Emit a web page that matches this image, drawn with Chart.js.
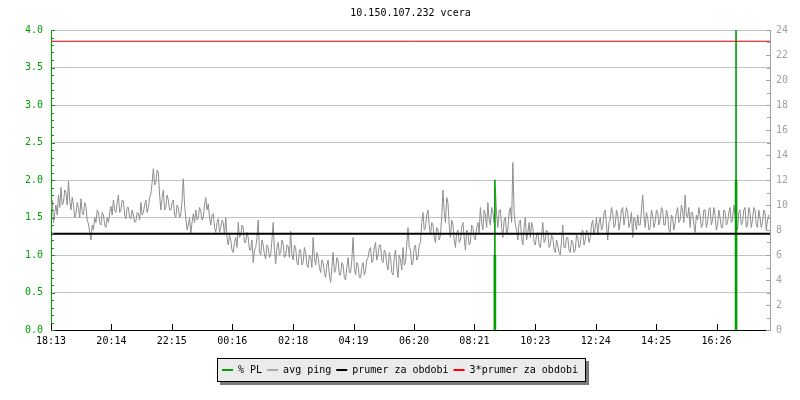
<!DOCTYPE html>
<html>
<head>
<meta charset="utf-8">
<title>10.150.107.232 vcera</title>
<script src="https://cdn.jsdelivr.net/npm/chart.js@4.4.1/dist/chart.umd.min.js"></script>
<style>
    html, body { margin: 0; padding: 0; background: #fff; }
    #wrap { width: 800px; height: 400px; }
</style>
</head>
<body>
<div id="wrap"><canvas id="pingChart" width="800" height="400"></canvas></div>
<script>
    // ── Data ───────────────────────────────────────────────
    const chartTitle = '10.150.107.232 vcera';
    const startLabel = '18:13';
    const tickLabels = ['18:13', '20:14', '22:15', '00:16', '02:18', '04:19',
                        '06:20', '08:21', '10:23', '12:24', '14:25', '16:26'];

    const sampleStep = 2.5; // minutes between samples
    const pingMs = [
        9.6, 10.4, 8.6, 9.4, 10.0, 9.2, 10.8, 9.8, 11.4, 10.0, 10.2, 11.2, 11.0, 10.0, 11.9, 10.4, 9.6, 10.6, 10.0, 9.0, 9.3, 10.2, 9.8, 9.0,
        10.5, 9.4, 9.2, 10.2, 9.9, 8.8, 8.5, 7.8, 7.2, 8.4, 8.0, 9.0, 8.6, 9.6, 9.4, 8.6, 8.4, 9.4, 9.2, 8.4, 8.2, 9.0, 8.6, 9.4,
        9.9, 9.2, 10.4, 9.6, 9.4, 10.2, 10.8, 9.4, 9.6, 10.4, 10.3, 9.2, 8.9, 9.8, 9.8, 9.0, 8.9, 9.6, 9.2, 8.6, 8.7, 9.4, 9.3, 8.8,
        10.2, 9.2, 9.4, 10.0, 10.4, 9.4, 9.8, 10.6, 10.9, 11.8, 12.9, 11.6, 11.8, 12.8, 12.6, 10.8, 9.6, 10.6, 11.2, 9.6, 9.8, 10.8, 10.4, 9.6,
        9.6, 10.2, 10.4, 9.2, 9.0, 10.0, 9.8, 9.0, 9.2, 10.4, 12.1, 10.0, 9.0, 8.0, 8.4, 9.0, 7.7, 8.6, 9.3, 8.6, 9.6, 8.8, 9.0, 9.8,
        9.5, 8.8, 9.0, 10.0, 10.6, 9.6, 10.1, 9.0, 8.4, 9.2, 9.3, 8.2, 7.8, 8.6, 8.9, 7.8, 8.2, 8.8, 8.6, 7.6, 9.0, 7.4, 6.8, 7.6,
        7.2, 6.4, 6.2, 7.0, 7.4, 6.6, 8.6, 7.4, 7.6, 8.4, 8.2, 7.0, 7.0, 7.8, 7.4, 6.4, 6.4, 7.2, 5.4, 6.4, 6.6, 7.4, 8.8, 6.2,
        6.0, 7.2, 6.8, 6.0, 5.7, 6.8, 6.6, 5.8, 6.0, 7.2, 8.6, 6.4, 5.3, 6.6, 7.0, 6.0, 6.2, 7.2, 6.9, 5.8, 6.0, 6.8, 6.7, 5.8,
        7.9, 6.0, 5.6, 6.8, 6.6, 5.4, 5.2, 6.4, 6.4, 5.2, 5.4, 6.6, 6.2, 5.2, 5.0, 6.0, 5.8, 5.0, 7.4, 5.8, 5.2, 6.2, 5.8, 5.0,
        4.6, 5.6, 5.4, 4.6, 4.2, 5.2, 5.6, 4.4, 3.8, 5.0, 6.2, 4.6, 4.8, 5.8, 5.6, 4.4, 4.4, 5.4, 5.2, 4.2, 4.0, 5.0, 5.8, 4.6,
        4.6, 5.6, 7.4, 5.0, 4.4, 5.4, 5.2, 4.2, 4.2, 5.0, 5.4, 4.4, 4.8, 5.6, 5.8, 6.4, 6.6, 5.4, 5.6, 6.6, 7.0, 5.6, 6.0, 6.8,
        6.8, 5.6, 5.4, 6.4, 6.2, 5.2, 4.8, 6.2, 5.8, 4.6, 4.4, 5.8, 6.4, 5.0, 4.2, 6.0, 5.6, 4.8, 6.6, 5.2, 5.4, 6.8, 8.2, 6.6,
        6.4, 5.2, 5.4, 6.6, 6.8, 5.6, 5.8, 6.8, 7.0, 8.6, 9.4, 8.0, 8.2, 9.2, 9.6, 8.4, 7.6, 8.6, 8.4, 7.4, 7.0, 8.2, 8.0, 7.2,
        7.6, 9.0, 11.2, 9.4, 8.6, 10.6, 10.2, 8.4, 7.4, 8.8, 8.4, 7.2, 6.6, 7.8, 8.0, 7.0, 7.2, 8.2, 8.6, 7.4, 6.4, 8.0, 7.8, 6.8,
        7.0, 8.4, 8.2, 7.4, 7.2, 8.2, 8.6, 7.8, 9.8, 8.6, 8.0, 9.6, 9.2, 8.2, 10.2, 8.8, 8.4, 9.8, 9.4, 8.6, 11.4, 9.2, 8.2, 9.6,
        9.6, 8.2, 7.4, 8.8, 9.0, 7.6, 8.0, 9.4, 9.8, 8.6, 13.4, 9.4, 8.4, 8.0, 7.2, 8.6, 8.8, 7.4, 6.8, 8.2, 9.0, 7.2, 7.8, 8.6,
        7.4, 8.6, 8.2, 7.0, 6.8, 7.6, 7.8, 6.8, 6.6, 7.6, 8.6, 7.0, 7.2, 8.0, 7.8, 6.6, 6.8, 7.6, 7.4, 6.4, 6.2, 7.2, 6.8, 6.2,
        6.0, 7.2, 8.4, 6.6, 6.6, 7.4, 7.4, 6.4, 6.2, 7.2, 7.0, 6.2, 6.4, 7.6, 7.4, 6.6, 6.8, 7.8, 8.0, 6.8, 7.2, 8.0, 7.8, 7.0,
        7.4, 8.4, 8.8, 7.6, 8.2, 9.0, 7.6, 8.6, 9.0, 8.0, 8.2, 9.4, 9.6, 8.4, 7.2, 8.6, 8.8, 9.8, 9.4, 8.2, 8.4, 9.6, 9.2, 8.0,
        8.6, 9.6, 9.8, 8.4, 9.0, 9.8, 9.4, 8.2, 8.6, 9.4, 7.4, 9.0, 8.8, 8.0, 9.2, 8.4, 8.4, 9.6, 10.8, 9.2, 8.2, 9.4, 9.0, 8.0,
        8.2, 9.6, 9.2, 8.2, 8.6, 9.6, 9.4, 8.4, 8.8, 9.8, 9.6, 8.4, 8.4, 9.6, 9.2, 8.0, 7.8, 9.2, 9.0, 8.0, 8.6, 9.4, 9.8, 8.6,
        8.8, 10.0, 9.6, 8.6, 10.8, 9.2, 9.0, 9.8, 8.2, 9.4, 9.4, 8.4, 7.8, 9.2, 8.8, 9.8, 9.2, 8.2, 8.4, 9.6, 9.6, 8.2, 8.6, 9.6,
        9.8, 8.4, 8.8, 9.8, 9.2, 8.0, 8.4, 9.6, 9.0, 8.2, 8.2, 9.6, 9.4, 8.4, 8.6, 9.4, 9.8, 8.6, 8.8, 10.0, 9.2, 8.4, 8.0, 9.4,
        9.6, 8.4, 8.6, 9.6, 9.8, 8.2, 8.4, 9.8, 9.4, 8.2, 8.8, 9.8, 9.6, 8.4, 8.2, 9.6, 9.0, 8.2, 8.6, 9.6, 9.4, 8.0, 8.8, 9.2
    ];

    const plTimes = ['09:02', '17:05'];
    const plPercent = [1, 2];
    const plPeak = [2, 4.5];

    const periodAvgMs = 7.7;
    const periodAvgTriple = 23.1;

    // ── Styles ─────────────────────────────────────────────
    const GREEN = '#00a000';
    const GRAY = '#8e8e8e';
    const AXIS_GRAY = '#a0a0a0';
    const GRID = '#c4c4c4';
    const FONT = { family: "'DejaVu Sans Mono', 'Liberation Mono', monospace", size: 10 };

    function minutesFromStart(label) {
        const [h, m] = label.split(':').map(Number);
        const [h0, m0] = startLabel.split(':').map(Number);
        let d = h * 60 + m - (h0 * 60 + m0);
        if (d < 0) d += 1440;
        return d;
    }

    const tickMinutes = tickLabels.map(minutesFromStart);
    const plMinutes = plTimes.map(minutesFromStart);
    const spanMinutes = 1440;

    // ── Plugins ────────────────────────────────────────────
    // legend frame with drop shadow, drawn before the legend text
    const legendFrame = {
        id: 'legendFrame',
        beforeDraw(chart) {
            const boxes = chart.legend && chart.legend.legendHitBoxes;
            if (!boxes || !boxes.length) return;
            const ctx = chart.ctx;
            const first = boxes[0];
            const last = boxes[boxes.length - 1];
            const x = Math.round(first.left) - 5;
            const y = Math.round(first.top) - 7;
            const w = Math.round(last.left + last.width) + 8 - x;
            const h = 24;
            ctx.save();
            ctx.fillStyle = '#7a7a7a';
            ctx.fillRect(x + 3, y + 3, w, h);
            ctx.fillStyle = '#ebebeb';
            ctx.fillRect(x, y, w, h);
            ctx.strokeStyle = '#000';
            ctx.lineWidth = 1;
            ctx.strokeRect(x + 0.5, y + 0.5, w - 1, h - 1);
            ctx.restore();
        }
    };

    // short inward tick marks on all three axes
    const axisMarks = {
        id: 'axisMarks',
        afterDraw(chart) {
            const { ctx, chartArea: a, scales } = chart;
            ctx.save();
            ctx.lineWidth = 1;

            ctx.strokeStyle = GREEN;
            for (let k = 0; k <= 40; k++) {
                const y = Math.round(scales.y.getPixelForValue(k / 10)) + 0.5;
                const len = k % 5 === 0 ? 4 : 3;
                ctx.beginPath();
                ctx.moveTo(a.left, y);
                ctx.lineTo(a.left + len, y);
                ctx.stroke();
            }

            ctx.strokeStyle = AXIS_GRAY;
            for (let k = 0; k <= 24; k++) {
                const y = Math.round(scales.y1.getPixelForValue(k)) + 0.5;
                const len = k % 2 === 0 ? 4 : 3;
                ctx.beginPath();
                ctx.moveTo(a.right, y);
                ctx.lineTo(a.right - len, y);
                ctx.stroke();
            }

            ctx.strokeStyle = '#000';
            tickMinutes.forEach(v => {
                const x = Math.round(scales.x.getPixelForValue(v)) + 0.5;
                ctx.beginPath();
                ctx.moveTo(x, a.bottom);
                ctx.lineTo(x, a.bottom - 6);
                ctx.stroke();
            });
            ctx.restore();
        }
    };

    // ── Chart ──────────────────────────────────────────────
    const ctx = document.getElementById('pingChart').getContext('2d');

    new Chart(ctx, {
        data: {
            datasets: [
                {
                    type: 'bar',
                    label: '% PL',
                    legendColor: GREEN,
                    data: plMinutes.map((x, i) => ({ x: x, y: plPercent[i] })),
                    backgroundColor: GREEN,
                    barThickness: 2,
                    grouped: false,
                    yAxisID: 'y',
                    order: 3
                },
                {
                    type: 'bar',
                    label: '',
                    data: plMinutes.map((x, i) => ({ x: x, y: plPeak[i] })),
                    backgroundColor: GREEN,
                    barThickness: 1,
                    grouped: false,
                    yAxisID: 'y',
                    order: 3
                },
                {
                    type: 'line',
                    label: 'avg ping',
                    legendColor: '#aaaaaa',
                    data: pingMs.map((v, i) => ({ x: i * sampleStep, y: v })),
                    borderColor: GRAY,
                    borderWidth: 1,
                    pointRadius: 0,
                    tension: 0,
                    yAxisID: 'y1',
                    order: 4
                },
                {
                    type: 'line',
                    label: 'prumer za obdobi',
                    legendColor: '#000000',
                    data: [{ x: 0, y: periodAvgMs }, { x: spanMinutes, y: periodAvgMs }],
                    borderColor: '#000',
                    borderWidth: 2,
                    pointRadius: 0,
                    yAxisID: 'y1',
                    order: 1
                },
                {
                    type: 'line',
                    label: '3*prumer za obdobi',
                    legendColor: '#ff0000',
                    data: [{ x: 0, y: periodAvgTriple }, { x: spanMinutes, y: periodAvgTriple }],
                    borderColor: '#e00000',
                    borderWidth: 1,
                    pointRadius: 0,
                    yAxisID: 'y1',
                    order: 0
                }
            ]
        },
        options: {
            responsive: false,
            animation: false,
            layout: { padding: { left: 0, right: 0, top: 0, bottom: 15 } },
            plugins: {
                title: {
                    display: true,
                    text: chartTitle,
                    fullSize: false,
                    color: '#000',
                    font: { ...FONT, weight: 'normal' },
                    padding: { top: 7, bottom: 11 }
                },
                legend: {
                    position: 'bottom',
                    labels: {
                        font: FONT,
                        color: '#000',
                        boxWidth: 11,
                        boxHeight: 2,
                        padding: 5,
                        generateLabels: chart => chart.data.datasets
                            .map((ds, i) => ({
                                text: ds.label,
                                fillStyle: ds.legendColor,
                                strokeStyle: ds.legendColor,
                                lineWidth: 0,
                                hidden: false,
                                datasetIndex: i
                            }))
                            .filter(item => item.text)
                    }
                },
                tooltip: { enabled: false }
            },
            scales: {
                x: {
                    type: 'linear',
                    min: 0,
                    max: spanMinutes,
                    offset: false,
                    afterBuildTicks: s => { s.ticks = tickMinutes.map(v => ({ value: v })); },
                    afterFit: s => { s.height = 30; },
                    grid: { drawOnChartArea: false, drawTicks: false, offset: false },
                    border: { color: '#000', width: 1 },
                    ticks: {
                        autoSkip: false,
                        maxRotation: 0,
                        minRotation: 0,
                        padding: 5,
                        color: '#000',
                        font: FONT,
                        callback: (v, i) => tickLabels[i]
                    }
                },
                y: {
                    position: 'left',
                    min: 0,
                    max: 4,
                    afterFit: s => { s.width = 51; },
                    grid: {
                        drawTicks: false,
                        color: c => (c.tick && c.tick.value === 0 ? 'rgba(0,0,0,0)' : GRID)
                    },
                    border: { color: GREEN, width: 1 },
                    ticks: {
                        stepSize: 0.5,
                        padding: 8,
                        color: GREEN,
                        font: FONT,
                        callback: v => Number(v).toFixed(1)
                    }
                },
                y1: {
                    position: 'right',
                    min: 0,
                    max: 24,
                    afterFit: s => { s.width = 30; },
                    grid: { drawOnChartArea: false, drawTicks: false },
                    border: { color: AXIS_GRAY, width: 1 },
                    ticks: {
                        stepSize: 2,
                        padding: 6,
                        color: AXIS_GRAY,
                        font: FONT
                    }
                }
            }
        },
        plugins: [legendFrame, axisMarks]
    });
</script>
</body>
</html>
